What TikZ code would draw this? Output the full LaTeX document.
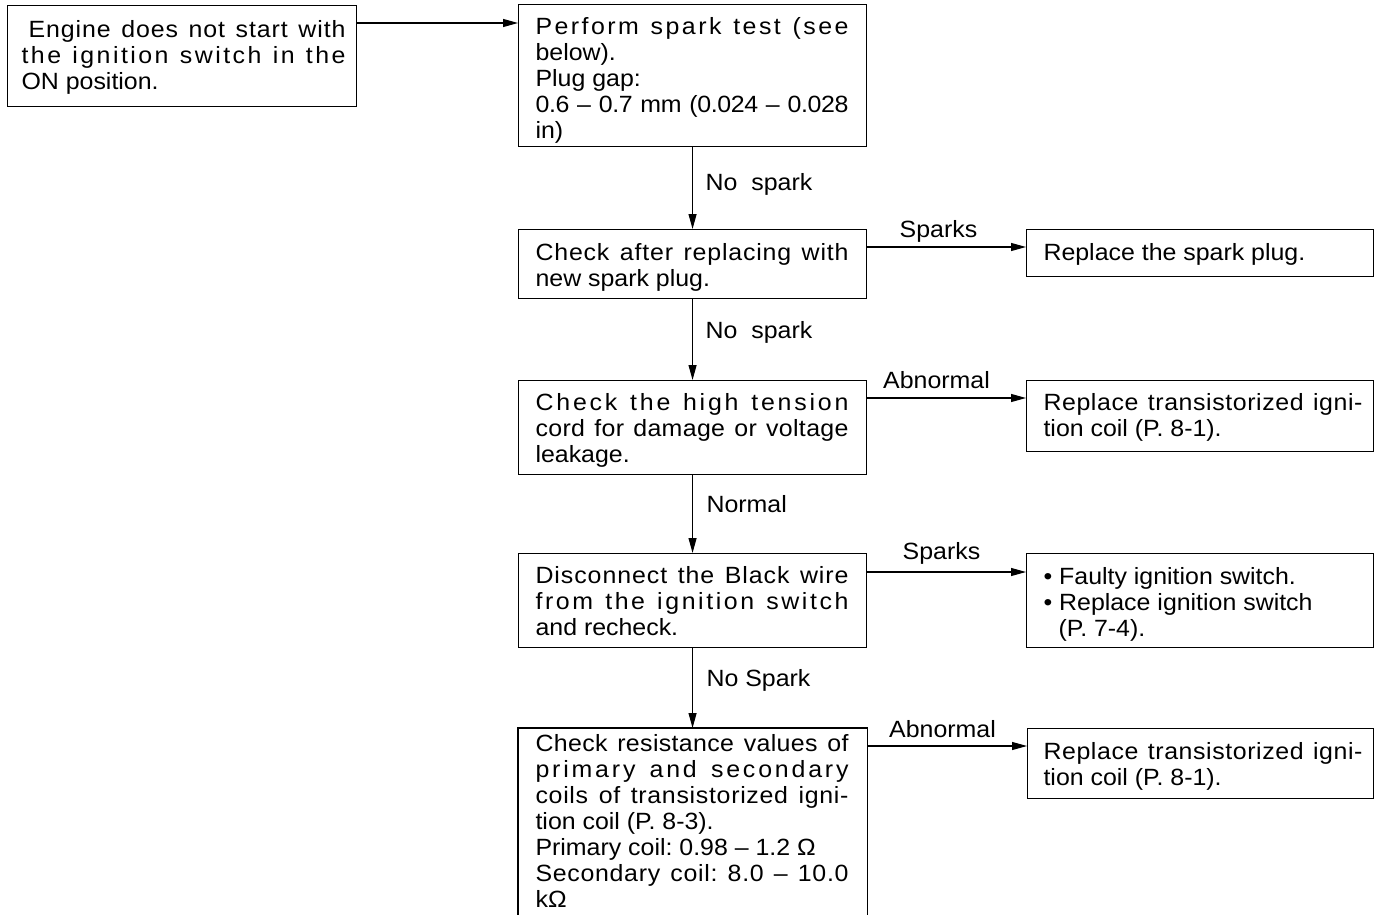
\documentclass[tikz,border=0pt]{standalone}
\usepackage{fontspec}
\setmainfont{Liberation Sans}[FakeStretch=1.06]
\usetikzlibrary{arrows.meta}
\newlength{\tw}
\newcommand{\jl}[2][0]{\makebox[\tw][s]{\spaceskip=0pt\xspaceskip=0pt\addfontfeature{LetterSpace=#1}#2}}
\frenchspacing
\tikzset{
  box/.style={draw, line width=1.1pt, inner sep=0pt, anchor=north west},
  txt/.style={anchor=north west, inner sep=0pt, align=flush left, text width=#1,
    execute at begin node={\setlength{\tw}{#1}}},
  lbl/.style={anchor=base west, inner sep=0pt},
  clbl/.style={anchor=base, inner sep=0pt},
  arr/.style={line width=1.1pt, -{Stealth[length=15pt,width=8pt,inset=0pt]}}
}
\begin{document}
\begin{tikzpicture}[x=1pt, y=-1pt, font=\fontsize{23.5}{26}\selectfont, line width=1.1pt]
\useasboundingbox (0,0) rectangle (1379,915);

% boxes
\node[box, minimum width=349pt, minimum height=101pt] (A) at (7,5) {};
\node[box, minimum width=348pt, minimum height=142pt] (B) at (518,4) {};
\node[box, minimum width=348pt, minimum height=69pt] (C) at (518,229) {};
\node[box, minimum width=348pt, minimum height=94pt] (D) at (518,380) {};
\node[box, minimum width=348pt, minimum height=94pt] (E) at (518,553) {};
\node[box, draw=none, minimum width=348pt, minimum height=187pt] (F) at (518,728) {};
\draw (F.south west) -- (F.north west) -- (F.north east) -- (F.south east);
\node[box, minimum width=347pt, minimum height=47pt] (R1) at (1026,229) {};
\node[box, minimum width=347pt, minimum height=71pt] (R2) at (1026,380) {};
\node[box, minimum width=347pt, minimum height=94pt] (R3) at (1026,553) {};
\node[box, minimum width=346pt, minimum height=70pt] (R4) at (1027,728) {};

% texts
\node[txt=324pt] (At) at (21,18.8) {\strut\jl[4]{\hspace*{7pt}Engine does not start with}\\ \jl[10.5]{the ignition switch in the}\\ ON position.};
\node[txt=313pt] (Bt) at (535,15.8) {\strut\jl[10.5]{Perform spark test (see}\\ below).\\ Plug gap:\\ \jl[-1.5]{0.6 -- 0.7 mm (0.024 -- 0.028}\\ in)};
\node[txt=313pt] (Ct) at (535,241.8) {\strut\jl[3.5]{Check after replacing with}\\ new spark plug.};
\node[txt=313pt] (Dt) at (535,391.8) {\strut\jl[12]{Check the high tension}\\ \jl[1.5]{cord for damage or voltage}\\ leakage.};
\node[txt=313pt] (Et) at (535,564.8) {\strut\jl[4]{Disconnect the Black wire}\\ \jl[11]{from the ignition switch}\\ and recheck.};
\node[txt=313pt] (Ft) at (535,732.8) {\strut\jl[1.5]{Check resistance values of}\\ \jl[12]{primary and secondary}\\ \jl[3]{coils of transistorized igni-}\\ tion coil (P. 8-3).\\ Primary coil: 0.98 -- 1.2 Ω\\ \jl[3]{Secondary coil: 8.0 -- 10.0}\\ kΩ};
\node[txt=319pt] (R1t) at (1043,241.3) {\strut Replace the spark plug.};
\node[txt=319pt] (R2t) at (1043,391.8) {\strut\jl[2.5]{Replace transistorized igni-}\\ tion coil (P. 8-1).};
\node[txt=319pt] (R3t) at (1043,565.8) {\strut • Faulty ignition switch.\\ • Replace ignition switch\\ \hspace*{15pt}(P. 7-4).};
\node[txt=319pt] (R4t) at (1043,740.8) {\strut\jl[2.5]{Replace transistorized igni-}\\ tion coil (P. 8-1).};

% connector labels
\node[lbl] (l1) at (705,190) {No\hspace{14pt}spark};
\node[lbl] (l2) at (705,338) {No\hspace{14pt}spark};
\node[lbl] (l3) at (706,512) {Normal};
\node[lbl] (l4) at (706,686) {No Spark};
\node[clbl] (l5) at (938.5,237) {Sparks};
\node[clbl] (l6) at (936.5,388) {Abnormal};
\node[clbl] (l7) at (941.5,559) {Sparks};
\node[clbl] (l8) at (942.5,737) {Abnormal};

% connectors
\path ([yshift=-18pt]A.north east) coordinate (a1);
\draw[arr] (a1) -- (a1 -| B.west);
\draw[arr] (B) -- (C);
\draw[arr] (C) -- (D);
\draw[arr] (D) -- (E);
\draw[arr] (E) -- (F);
\path ([yshift=-18pt]R1.north west) coordinate (r1);
\draw[arr] (C.east |- r1) -- (r1);
\path ([yshift=-18pt]R2.north west) coordinate (r2);
\draw[arr] (D.east |- r2) -- (r2);
\path ([yshift=-19pt]R3.north west) coordinate (r3);
\draw[arr] (E.east |- r3) -- (r3);
\path ([yshift=-18pt]R4.north west) coordinate (r4);
\draw[arr] (F.east |- r4) -- (r4);
\end{tikzpicture}
\end{document}
